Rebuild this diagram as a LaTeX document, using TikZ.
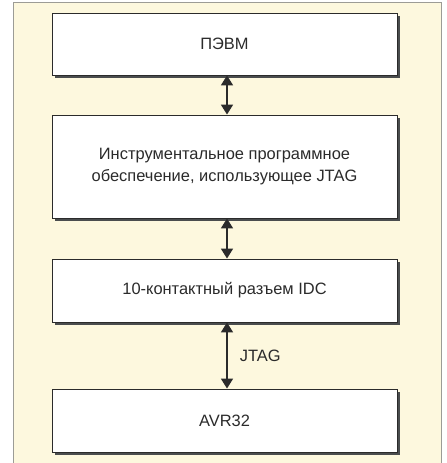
\documentclass[tikz,border=0pt]{standalone}
\usepackage{fontspec}
\setmainfont{Liberation Sans}
\usetikzlibrary{arrows.meta, positioning, calc, shadows}
\definecolor{pnPaper}{HTML}{FDF8DE}
\definecolor{pnEdge}{HTML}{9C9C96}
\definecolor{pnInk}{HTML}{2B2B2B}
\definecolor{pnShade}{HTML}{4A4D4E}
\tikzset{
  block/.style={
    draw=pnInk, line width=0.9pt, fill=white,
    minimum width=345bp, align=center, inner sep=0pt,
    font=\fontsize{16.5}{22}\selectfont, text=pnInk,
    drop shadow={shadow xshift=3bp, shadow yshift=-3bp, fill=pnShade, opacity=1}
  },
  link/.style={{Triangle[length=10bp, width=12bp]}-{Triangle[length=10bp, width=12bp]},
    line width=1.8pt, draw=pnInk},
  lbl/.style={font=\fontsize{16.5}{22}\selectfont, text=pnInk, inner sep=0pt},
}

\begin{document}
\begin{tikzpicture}[x=1bp, y=-1bp]
  \useasboundingbox (0,0) rectangle (447,463);
  \fill[white] (0,0) rectangle (447,463);
  \draw[pnEdge, fill=pnPaper, line width=1pt] (13,475) -- (13,3) -- (441,3) -- (441,475);

  \node[block, minimum height=62bp] (pc) at (224.5,44) {ПЭВМ};
  \node[block, minimum height=103bp] (soft) at (224.5,166.5)
    {Инструментальное программное\\обеспечение, использующее JTAG};
  \node[block, minimum height=63bp] (idc) at (224.5,290.5) {10-контактный разъем IDC};
  \node[block, minimum height=63bp] (avr) at (224.5,420.5) {AVR32};

  \draw[link] ([xshift=2.5bp]pc.south) -- ([xshift=2.5bp]soft.north);
  \draw[link] ([xshift=2.5bp]soft.south) -- ([xshift=2.5bp]idc.north);
  \draw[link] ([xshift=2.5bp]idc.south) -- ([xshift=2.5bp]avr.north)
    node[lbl, midway, right=12bp] {JTAG};
\end{tikzpicture}
\end{document}
